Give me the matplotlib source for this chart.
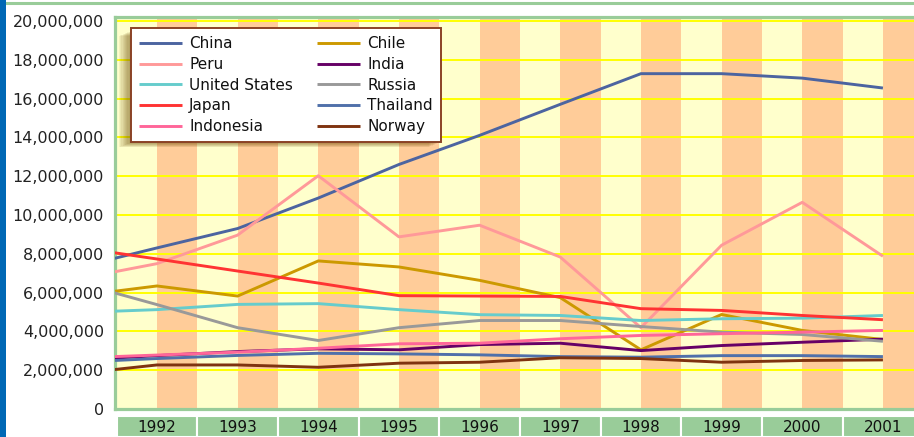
import matplotlib
matplotlib.use("Agg")
import matplotlib.pyplot as plt
from matplotlib.patches import Rectangle
from matplotlib.lines import Line2D
from matplotlib.ticker import FuncFormatter

# ---- data (tonnes); 1991 point lies left of the visible window ----
years = [1991, 1992, 1993, 1994, 1995, 1996, 1997, 1998, 1999, 2000, 2001]
label_years = [1992, 1993, 1994, 1995, 1996, 1997, 1998, 1999, 2000, 2001]

china = [7.28, 8.30, 9.30, 10.87, 12.60, 14.10, 15.70, 17.28, 17.28, 17.05, 16.54]
chile = [5.82, 6.34, 5.82, 7.63, 7.32, 6.63, 5.74, 3.05, 4.87, 4.05, 3.58]
peru = [6.69, 7.49, 8.96, 12.02, 8.87, 9.47, 7.83, 4.19, 8.44, 10.65, 7.87]
india = [2.51, 2.75, 2.96, 3.10, 3.05, 3.32, 3.39, 3.01, 3.27, 3.44, 3.60]
united_states = [4.97, 5.12, 5.39, 5.43, 5.12, 4.86, 4.82, 4.56, 4.65, 4.68, 4.82]
russia = [6.53, 5.38, 4.19, 3.53, 4.19, 4.56, 4.56, 4.25, 3.96, 3.84, 3.49]
japan = [8.34, 7.73, 7.11, 6.49, 5.84, 5.82, 5.80, 5.17, 5.08, 4.82, 4.60]
thailand = [2.41, 2.60, 2.76, 2.87, 2.84, 2.79, 2.70, 2.67, 2.75, 2.75, 2.70]
indonesia = [2.63, 2.78, 2.93, 3.13, 3.36, 3.39, 3.62, 3.79, 3.88, 3.96, 4.05]
norway = [1.82, 2.27, 2.27, 2.15, 2.36, 2.41, 2.64, 2.60, 2.41, 2.50, 2.53]

series_names = ["China", "Chile", "Peru", "India", "United States",
                "Russia", "Japan", "Thailand", "Indonesia", "Norway"]
series_values = [china, chile, peru, india, united_states,
                 russia, japan, thailand, indonesia, norway]
series_colors = ["#4C64A0", "#CC9900", "#FF9999", "#660066", "#66CCCC",
                 "#999999", "#FF3333", "#5070AA", "#FF6699", "#7F3310"]
legend_order = ["China", "Peru", "United States", "Japan", "Indonesia",
                "Chile", "India", "Russia", "Thailand", "Norway"]

yticks = [0, 2e6, 4e6, 6e6, 8e6, 10e6, 12e6, 14e6, 16e6, 18e6, 20e6]

W, H = 914, 437
fig = plt.figure(figsize=(W / 100, H / 100), dpi=100)
fig.patch.set_facecolor("white")

GREEN = "#99CC99"

ax = fig.add_axes([115 / W, 1 - 409 / H, (916 - 115) / W, (409 - 17) / H])
ax.set_facecolor("#FFFFCC")
for y in years:
    ax.axvspan(y, y + 0.5, color="#FFCC99", lw=0, zorder=0)

ax.set_xlim(1991.48, 2001.41)
ax.set_ylim(0, 20.2e6)
ax.set_yticks(yticks)
ax.yaxis.set_major_formatter(FuncFormatter(lambda v, p: f"{int(round(v)):,}"))
ax.set_xticks([])
ax.tick_params(axis="y", length=0, pad=8, labelsize=11.5, labelcolor="#222222")
ax.yaxis.grid(True, color="#FFFF00", lw=1.4)
for s in ax.spines.values():
    s.set_color(GREEN)
    s.set_linewidth(2.3)

lines = {}
for name, vals, col in zip(series_names, series_values, series_colors):
    (ln,) = ax.plot(years, [v * 1e6 for v in vals], color=col, lw=2.1,
                    label=name, solid_capstyle="butt", zorder=3)
    lines[name] = ln

leg = ax.legend([lines[n] for n in legend_order], legend_order, ncol=2,
                loc="upper left", bbox_to_anchor=(0.02, 0.972),
                borderaxespad=0, fontsize=11, handlelength=2.8,
                handletextpad=0.45, columnspacing=1.6, labelspacing=0.37,
                borderpad=0.55, fancybox=False, framealpha=1,
                edgecolor="#8B4226")
leg.get_frame().set_linewidth(1.4)
leg.set_zorder(10)
for t in leg.get_texts():
    t.set_color("#111111")

# x label strip
ax2 = fig.add_axes([115 / W, 0, (916 - 115) / W, (437 - 416) / H])
ax2.set_xlim(1991.48, 2001.41)
ax2.set_ylim(0, 1)
ax2.bar(label_years, [1] * len(label_years), width=1.0, bottom=0,
        color=GREEN, edgecolor="white", lw=1.5)
for y in label_years:
    ax2.text(y, 0.45, str(y), ha="center", va="center", fontsize=11,
             color="#111111")
ax2.axis("off")

# frame decorations
fig.add_artist(Rectangle((0, 0), 6 / W, 1, transform=fig.transFigure,
                         color="#0068B5", lw=0, zorder=20))
fig.add_artist(Line2D([6 / W, 1], [1 - 3 / H, 1 - 3 / H], transform=fig.transFigure,
                      color=GREEN, lw=2.2))

# legend shadow (offset left/down, soft)
fig.canvas.draw()
bb = leg.get_window_extent()
for k in range(1, 11):
    ax.add_artist(Rectangle((bb.x0 - k * 1.2, bb.y0 - k * 0.5), bb.width, bb.height - 3,
                            transform=None, facecolor="#6B4A00", alpha=0.07,
                            lw=0, zorder=9))

fig.savefig("out.png", dpi=100)
